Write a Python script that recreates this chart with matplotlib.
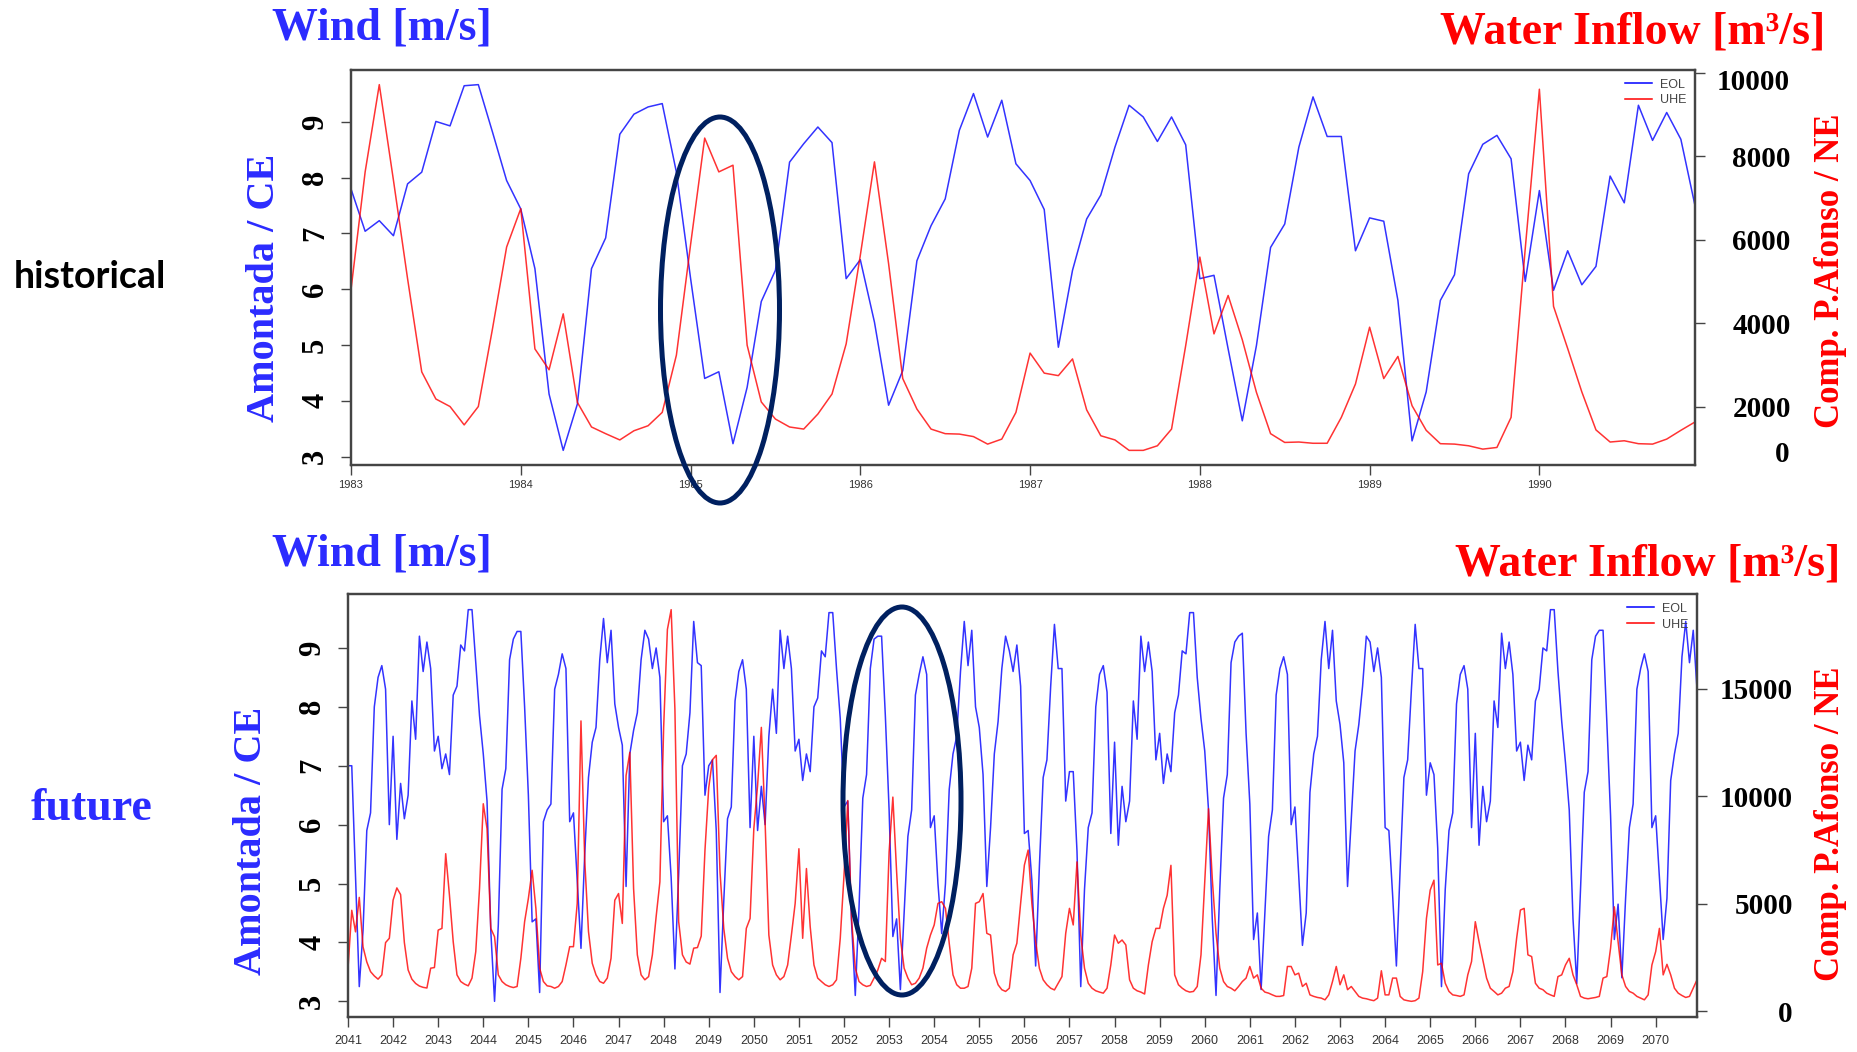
import numpy as np
import matplotlib.pyplot as plt
from matplotlib.patches import Ellipse
from matplotlib.lines import Line2D

# ---- data: monthly values ----
hist_start = 1983
hist_ticks = list(range(1983, 1991))
fut_start = 2041
fut_ticks = list(range(2041, 2071))

# wind, Amontada / CE [m/s]
eol_hist = [
    7.80, 7.04, 7.23, 6.96, 7.89, 8.10, 9.01, 8.93, 9.65, 9.67, 8.82, 7.95,  # 1983
    7.44, 6.37, 4.12, 3.11, 3.94, 6.37, 6.92, 8.78, 9.14, 9.27, 9.33, 8.10,  # 1984
    6.20, 4.40, 4.52, 3.23, 4.24, 5.78, 6.34, 8.28, 8.61, 8.91, 8.63, 6.19,  # 1985
    6.53, 5.41, 3.92, 4.54, 6.51, 7.14, 7.62, 8.85, 9.51, 8.73, 9.39, 8.25,  # 1986
    7.95, 7.43, 4.96, 6.34, 7.26, 7.69, 8.55, 9.30, 9.09, 8.65, 9.09, 8.59,  # 1987
    6.19, 6.25, 4.93, 3.64, 4.99, 6.75, 7.17, 8.55, 9.45, 8.74, 8.74, 6.69,  # 1988
    7.28, 7.22, 5.80, 3.28, 4.16, 5.80, 6.26, 8.07, 8.60, 8.76, 8.34, 6.14,  # 1989
    7.77, 5.98, 6.69, 6.08, 6.41, 8.03, 7.55, 9.30, 8.67, 9.17, 8.69, 7.50,  # 1990
]
# water inflow, Comp. P.Afonso / NE [m3/s]
uhe_hist = [
    4800, 7620, 9710, 7420, 5060, 2830, 2180, 2000, 1560, 2000, 3860, 5820,
    6740, 3380, 2880, 4220, 2100, 1510, 1350, 1200, 1420, 1540, 1860, 3230,
    5870, 8430, 7620, 7780, 3470, 2110, 1700, 1510, 1460, 1820, 2300, 3500,
    5620, 7860, 5420, 2670, 1940, 1460, 1350, 1340, 1280, 1100, 1220, 1860,
    3280, 2800, 2740, 3140, 1920, 1300, 1200, 950, 950, 1060, 1460, 3460,
    5580, 3740, 4660, 3600, 2340, 1350, 1140, 1150, 1120, 1120, 1740, 2540,
    3900, 2670, 3200, 2020, 1430, 1110, 1100, 1060, 980, 1020, 1740, 5780,
    9600, 4400, 3390, 2350, 1440, 1150, 1180, 1110, 1100, 1220, 1430, 1630,
]

eol_fut = [
    7.00, 7.00, 5.10, 3.25, 4.20, 5.90, 6.20, 8.00, 8.50, 8.70, 8.30, 6.00,  # 2041
    7.50, 5.75, 6.70, 6.10, 6.50, 8.10, 7.45, 9.20, 8.60, 9.10, 8.65, 7.25,
    7.50, 6.95, 7.20, 6.85, 8.20, 8.35, 9.05, 8.95, 9.65, 9.65, 8.75, 7.85,
    7.20, 6.40, 4.20, 3.00, 4.30, 6.60, 6.95, 8.80, 9.15, 9.28, 9.28, 8.00,
    6.50, 4.35, 4.40, 3.15, 6.05, 6.25, 6.35, 8.30, 8.55, 8.90, 8.65, 6.05,  # 2045
    6.20, 5.05, 3.90, 5.50, 6.80, 7.40, 7.65, 8.80, 9.50, 8.75, 9.30, 8.05,
    7.65, 7.35, 4.95, 7.20, 7.60, 7.90, 8.80, 9.30, 9.15, 8.65, 9.00, 8.50,
    6.05, 6.15, 5.10, 3.55, 5.15, 7.00, 7.20, 7.90, 9.45, 8.75, 8.70, 6.50,
    7.00, 7.10, 5.90, 3.15, 4.70, 6.10, 6.30, 8.10, 8.60, 8.80, 8.30, 5.95,
    7.50, 5.90, 6.65, 6.00, 7.50, 8.30, 7.55, 9.30, 8.65, 9.20, 8.65, 7.25,  # 2050
    7.45, 6.75, 7.20, 6.90, 8.00, 8.15, 8.95, 8.85, 9.60, 9.60, 8.65, 7.80,
    6.30, 6.40, 4.35, 3.10, 4.60, 6.45, 6.85, 8.65, 9.15, 9.20, 9.20, 7.85,
    6.25, 4.10, 4.40, 3.20, 4.50, 5.80, 6.25, 8.20, 8.55, 8.85, 8.55, 5.95,
    6.15, 5.00, 4.15, 5.00, 6.60, 7.20, 7.50, 8.60, 9.45, 8.70, 9.30, 8.00,
    7.65, 6.85, 4.95, 5.95, 7.20, 7.75, 8.65, 9.20, 8.95, 8.60, 9.05, 8.35,  # 2055
    5.85, 5.90, 5.05, 3.60, 5.30, 6.80, 7.10, 8.35, 9.40, 8.65, 8.65, 6.40,
    6.90, 6.90, 5.55, 3.25, 4.90, 5.95, 6.20, 8.00, 8.55, 8.70, 8.25, 5.85,
    7.40, 5.65, 6.65, 6.05, 6.40, 8.10, 7.45, 9.20, 8.60, 9.10, 8.60, 7.10,
    7.55, 6.70, 7.20, 6.90, 7.90, 8.20, 8.95, 8.90, 9.60, 9.60, 8.50, 7.80,
    7.25, 6.25, 4.40, 3.10, 4.90, 6.45, 6.85, 8.75, 9.10, 9.20, 9.25, 7.55,  # 2060
    6.35, 4.05, 4.50, 3.20, 4.50, 5.80, 6.25, 8.20, 8.65, 8.85, 8.55, 6.00,
    6.30, 5.15, 3.95, 4.50, 6.55, 7.20, 7.50, 8.80, 9.45, 8.65, 9.30, 8.10,
    7.70, 7.05, 4.95, 6.10, 7.25, 7.70, 8.35, 9.20, 9.10, 8.60, 9.00, 8.50,
    5.95, 5.90, 4.80, 3.60, 5.25, 6.80, 7.10, 8.30, 9.40, 8.65, 8.65, 6.50,
    7.05, 6.85, 5.60, 3.25, 4.90, 5.90, 6.20, 8.05, 8.55, 8.70, 8.30, 5.95,  # 2065
    7.55, 5.65, 6.65, 6.05, 6.40, 8.10, 7.65, 9.25, 8.65, 9.10, 8.55, 7.25,
    7.40, 6.75, 7.35, 7.10, 8.10, 8.30, 9.00, 8.95, 9.65, 9.65, 8.60, 7.75,
    7.05, 6.25, 4.40, 3.30, 4.90, 6.55, 6.90, 8.80, 9.20, 9.30, 9.30, 7.75,
    6.15, 4.05, 4.65, 3.40, 4.75, 5.95, 6.35, 8.30, 8.65, 8.90, 8.60, 5.95,
    6.15, 5.10, 4.05, 4.75, 6.75, 7.20, 7.55, 8.85, 9.45, 8.75, 9.30, 8.30,  # 2070
]
uhe_fut = [
    2000, 4700, 3700, 5300, 3000, 2300, 1850, 1650, 1500, 1700, 3200, 3400,  # 2041
    5170, 5740, 5430, 3200, 1930, 1500, 1300, 1180, 1120, 1090, 2010, 2040,
    3780, 3860, 7330, 5400, 3240, 1700, 1390, 1270, 1190, 1550, 2780, 5710,
    9650, 8490, 3860, 3470, 1700, 1390, 1240, 1160, 1110, 1160, 2470, 4170,
    5250, 6560, 4790, 2010, 1390, 1190, 1160, 1080, 1160, 1390, 2160, 3010,  # 2045
    3010, 5020, 13500, 7020, 3710, 2240, 1700, 1390, 1310, 1550, 2470, 5170,
    5480, 4090, 10960, 12040, 5710, 2630, 1700, 1470, 1620, 2630, 4400, 6020,
    13200, 17750, 18670, 14040, 4170, 2630, 2300, 2200, 2940, 2970, 3500, 7500,
    10400, 11700, 11900, 6480, 3860, 2470, 1850, 1620, 1470, 1620, 3860, 4320,
    8490, 10500, 13200, 8800, 3550, 2160, 1700, 1470, 1620, 2160, 3550, 5020,  # 2050
    7560, 3400, 6640, 3940, 2160, 1550, 1390, 1240, 1160, 1240, 1470, 3400,
    6330, 9800, 4320, 2010, 1390, 1240, 1160, 1210, 1550, 1930, 2470, 2320,
    7410, 9960, 6480, 3400, 2010, 1550, 1240, 1310, 1550, 2010, 2940, 3550,
    4020, 5020, 5100, 4790, 3170, 1700, 1240, 1080, 1080, 1160, 2010, 5020,
    5100, 5480, 3630, 3550, 1780, 1240, 1010, 930, 1080, 2630, 3170, 5020,  # 2055
    6800, 7500, 5000, 3250, 2000, 1470, 1240, 1080, 1000, 1310, 1620, 3630,
    4790, 4020, 6950, 3550, 2010, 1310, 1080, 960, 900, 850, 1080, 2160,
    3550, 3170, 3320, 3090, 1470, 1080, 960, 900, 810, 2160, 3240, 3860,
    3860, 4790, 5400, 6790, 1700, 1240, 1080, 960, 900, 930, 1160, 2630,
    6020, 9420, 6180, 3630, 2010, 1390, 1160, 1080, 960, 1160, 1390, 1550,  # 2060
    2090, 1550, 1700, 1080, 900, 850, 770, 700, 700, 740, 2090, 2090,
    1700, 1780, 1160, 1310, 770, 700, 650, 620, 540, 770, 1390, 2090,
    1240, 1700, 1010, 1160, 930, 700, 620, 590, 540, 500, 620, 1890,
    770, 770, 1550, 1550, 700, 540, 500, 470, 500, 620, 1850, 4320,
    5640, 6100, 2160, 2240, 1310, 930, 770, 740, 700, 770, 1700, 2320,  # 2065
    4170, 3240, 2390, 1550, 1080, 930, 770, 850, 1080, 1160, 1850, 3400,
    4710, 4790, 2630, 2550, 1310, 1080, 1010, 850, 770, 700, 1620, 1700,
    2160, 2470, 1700, 1240, 700, 620, 590, 620, 650, 700, 1550, 1620,
    2940, 4860, 3240, 1700, 1160, 930, 850, 700, 620, 540, 770, 2160,
    2780, 3860, 1700, 2190, 1700, 1080, 850, 740, 650, 700, 1080, 1470,  # 2070
]

# ---- figure ----
W, H = 1858, 1052
SERIF = 'Liberation Serif'
BLUE_TXT = '#2b2bff'
NAVY = '#002060'

fig = plt.figure(figsize=(W / 100, H / 100), dpi=100)


def px_axes(left, top, right, bottom):
    return fig.add_axes([left / W, 1 - bottom / H, (right - left) / W, (bottom - top) / H])


def px_text(x, y, s, **kw):
    fig.text(x / W, 1 - y / H, s, **kw)


def r_range(v):
    # R style 4% padding
    lo, hi = min(v), max(v)
    pad = 0.04 * (hi - lo)
    return lo - pad, hi + pad


def panel(box, start, eol, uhe, xticks, xfs, xpad, rticks, rlabels):
    ax = px_axes(*box)
    t = start + np.arange(len(eol)) / 12
    ax.plot(t, eol, color='blue', lw=1.1, alpha=0.8)
    ax.set_xlim(t[0], t[-1])
    ax.set_ylim(*r_range(eol))
    axr = ax.twinx()
    axr.plot(t, uhe, color='red', lw=1.1, alpha=0.8)
    axr.set_ylim(*r_range(uhe))

    for a in (ax, axr):
        for sp in a.spines.values():
            sp.set_color('#444')
            sp.set_linewidth(1.6)

    ax.set_xticks(xticks)
    ax.set_xticklabels([str(y) for y in xticks], fontsize=xfs,
                       family='Liberation Sans', color='#333')
    ax.tick_params(axis='x', length=7, width=1, color='#444', pad=xpad)

    ax.set_yticks(range(3, 10))
    ax.set_yticklabels([str(v) for v in range(3, 10)], rotation=90, va='center',
                       family=SERIF, weight='bold', fontsize=22)
    ax.tick_params(axis='y', length=7, width=1, color='#444', pad=8)

    axr.set_yticks(rticks)
    axr.set_yticklabels(rlabels, family=SERIF, weight='bold', fontsize=21)
    axr.tick_params(axis='y', length=7, width=1, color='#444', pad=62)
    for lab in axr.get_yticklabels():
        lab.set_horizontalalignment('right')

    handles = [Line2D([], [], color='blue', lw=1.1), Line2D([], [], color='red', lw=1.1)]
    axr.legend(handles, ['EOL', 'UHE'], loc='upper right', frameon=False,
               prop={'family': 'Liberation Sans', 'size': 9}, labelcolor='#444',
               handlelength=2.2, handletextpad=0.6, labelspacing=0.3,
               borderaxespad=0.3)
    return ax, axr


panel((351, 70, 1695, 465), hist_start, eol_hist, uhe_hist, hist_ticks, 8, 4,
      [2000, 4000, 6000, 8000, 10000], ['2000', '4000', '6000', '8000', ''])
panel((348, 594, 1697, 1017), fut_start, eol_fut, uhe_fut, fut_ticks, 9, 6,
      [0, 5000, 10000, 15000], ['0', '5000', '10000', '15000'])

# labels placed over the plots
tkw = dict(family=SERIF, weight='bold')
px_text(1790, 83, '10000', ha='right', va='center', fontsize=21, color='black', **tkw)
px_text(1790, 455, '0', ha='right', va='center', fontsize=21, color='black', **tkw)

px_text(272, 28, 'Wind [m/s]', ha='left', va='center', fontsize=33, color=BLUE_TXT, **tkw)
px_text(1825, 33, 'Water Inflow [m³/s]', ha='right', va='center', fontsize=33, color='red', **tkw)
px_text(272, 554, 'Wind [m/s]', ha='left', va='center', fontsize=33, color=BLUE_TXT, **tkw)
px_text(1840, 564, 'Water Inflow [m³/s]', ha='right', va='center', fontsize=33, color='red', **tkw)

px_text(264, 288, 'Amontada / CE', rotation=90, ha='center', va='center', fontsize=29,
        color=BLUE_TXT, **tkw)
px_text(252, 841, 'Amontada / CE', rotation=90, ha='center', va='center', fontsize=29,
        color=BLUE_TXT, **tkw)
px_text(1831, 271, 'Comp. P.Afonso / NE', rotation=90, ha='center', va='center', fontsize=25,
        color='red', **tkw)
px_text(1831, 824, 'Comp. P.Afonso / NE', rotation=90, ha='center', va='center', fontsize=25,
        color='red', **tkw)

px_text(90, 277, 'historical', ha='center', va='center', fontsize=27, family='Lato',
        weight='bold', color='black')
px_text(92, 809, 'future', ha='center', va='center', fontsize=33, color=BLUE_TXT, **tkw)

# highlight ellipses
for cx, cy, ew, eh in [(720, 310, 119, 386), (902, 801, 118, 388)]:
    fig.patches.append(Ellipse((cx / W, 1 - cy / H), ew / W, eh / H, fill=False,
                               edgecolor=NAVY, lw=3.6, transform=fig.transFigure))

fig.savefig('out.png', dpi=100)
